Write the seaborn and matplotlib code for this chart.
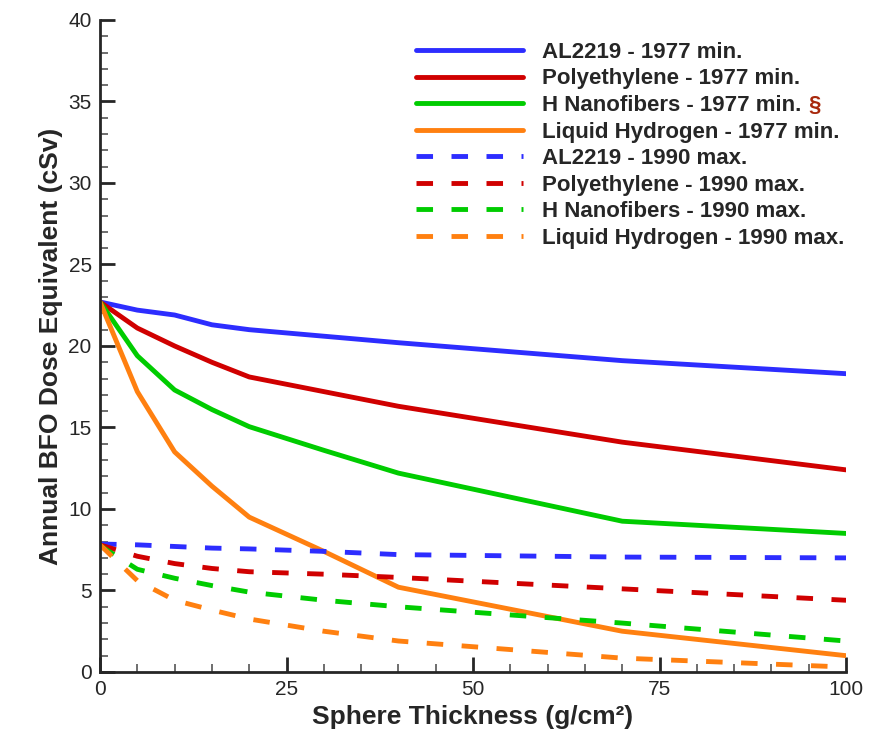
import seaborn as sns
import matplotlib.pyplot as plt
from matplotlib.ticker import MultipleLocator

# Sphere thickness (g/cm^2) and dose equivalent (cSv)
thickness = [0, 5, 10, 15, 20, 30, 40, 70, 100]
al_1977 = [22.7, 22.2, 21.9, 21.3, 21.0, 20.6, 20.2, 19.1, 18.3]
poly_1977 = [22.7, 21.1, 20.0, 19.0, 18.1, 17.2, 16.3, 14.1, 12.4]
nano_1977 = [22.7, 19.4, 17.3, 16.1, 15.05, 13.6, 12.2, 9.25, 8.5]
lh2_1977 = [22.7, 17.2, 13.5, 11.4, 9.5, 7.4, 5.2, 2.5, 1.0]
al_1990 = [7.85, 7.8, 7.7, 7.6, 7.55, 7.4, 7.2, 7.05, 7.0]
poly_1990 = [7.8, 7.1, 6.65, 6.35, 6.15, 6.0, 5.8, 5.1, 4.4]
nano_1990 = [7.75, 6.3, 5.75, 5.3, 4.9, 4.4, 4.0, 3.0, 1.9]
lh2_1990 = [7.8, 5.6, 4.4, 3.8, 3.25, 2.5, 1.9, 0.85, 0.3]

materials = ['AL2219', 'Polyethylene', 'H Nanofibers', 'Liquid Hydrogen']
colors = ['#2d2dff', '#d00000', '#00cc00', '#ff8010']
series_1977 = [al_1977, poly_1977, nano_1977, lh2_1977]
series_1990 = [al_1990, poly_1990, nano_1990, lh2_1990]

sns.set_style('ticks')
plt.rcParams['font.family'] = ['Liberation Sans', 'DejaVu Sans']

fig = plt.figure(figsize=(8.79, 7.32), dpi=100)
ax = fig.add_axes([0.1138, 0.082, 0.8487, 0.8907])

for name, col, vals in zip(materials, colors, series_1977):
    sns.lineplot(x=thickness, y=vals, color=col, linewidth=3.5,
                 label=f'{name} - 1977 min.', ax=ax)
for name, col, vals in zip(materials, colors, series_1990):
    ln = sns.lineplot(x=thickness, y=vals, color=col, linewidth=3.5,
                      label=f'{name} - 1990 max.', ax=ax)
    ln.lines[-1].set_dashes((3.4, 3.8))

ax.set_xlim(0, 100)
ax.set_ylim(0, 40)
ax.xaxis.set_major_locator(MultipleLocator(25))
ax.xaxis.set_minor_locator(MultipleLocator(5))
ax.yaxis.set_major_locator(MultipleLocator(5))
ax.yaxis.set_minor_locator(MultipleLocator(1))
ax.tick_params(which='major', direction='in', length=11, width=2, labelsize=15, pad=6)
ax.tick_params(which='minor', direction='in', length=6, width=1.2, color='#555555')
for s in ['top', 'right']:
    ax.spines[s].set_visible(False)
for s in ['left', 'bottom']:
    ax.spines[s].set_linewidth(2)

ax.set_xlabel('Sphere Thickness (g/cm²)', fontsize=19, fontweight='bold', labelpad=4)
ax.set_ylabel('Annual BFO Dose Equivalent (cSv)', fontsize=19, fontweight='bold', labelpad=4)

leg = ax.legend(loc='upper left', bbox_to_anchor=(0.461, 0.958),
                bbox_transform=fig.transFigure, frameon=False,
                prop={'size': 16, 'weight': 'bold'}, handlelength=4.8,
                handletextpad=0.85, labelspacing=0.25, borderpad=0)

# section mark after the nanofiber entry
fig.canvas.draw()
bb = leg.get_texts()[2].get_window_extent()
x, y = fig.transFigure.inverted().transform((bb.x1 + 7, (bb.y0 + bb.y1) / 2))
fig.text(x, y, '§', color='#a8280c', fontsize=16, fontweight='bold', va='center')

plt.savefig('out.png', dpi=100)
